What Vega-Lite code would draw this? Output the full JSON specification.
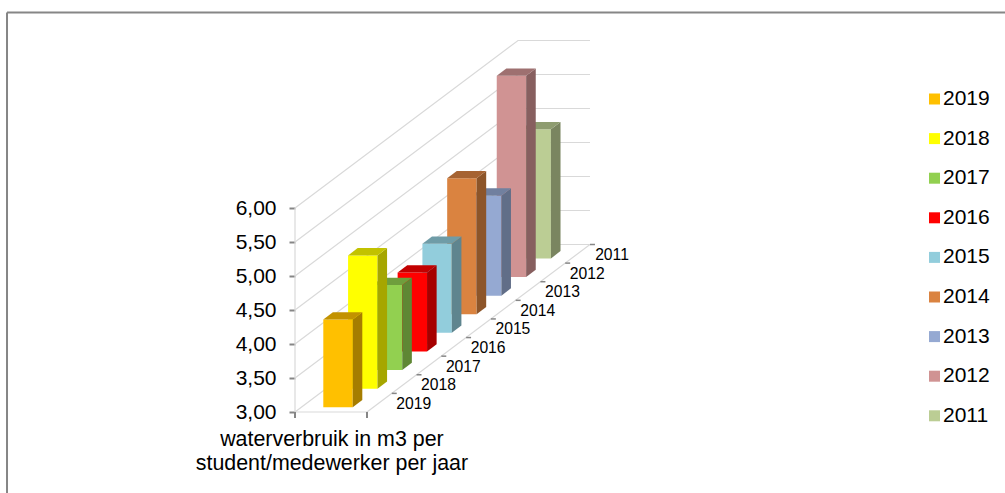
{
  "$schema": "https://vega.github.io/schema/vega-lite/v6.json",
  "width": 1005,
  "height": 493,
  "autosize": "none",
  "padding": 0,
  "background": "white",
  "config": {"view": {"stroke": null}, "font": "Liberation Sans"},
  "datasets": {
    "verbruik": [
      {"jaar": "2011", "waarde": 4.90},
      {"jaar": "2012", "waarde": 5.96},
      {"jaar": "2013", "waarde": 4.47},
      {"jaar": "2014", "waarde": 5.00},
      {"jaar": "2015", "waarde": 4.31},
      {"jaar": "2016", "waarde": 4.16},
      {"jaar": "2017", "waarde": 4.25},
      {"jaar": "2018", "waarde": 4.96},
      {"jaar": "2019", "waarde": 4.29}
    ],
    "niveaus": [
      {"niveau": 3.0}, {"niveau": 3.5}, {"niveau": 4.0}, {"niveau": 4.5},
      {"niveau": 5.0}, {"niveau": 5.5}, {"niveau": 6.0}
    ]
  },
  "layer": [
    {
      "description": "Gridlines: along the side wall, then across the back wall",
      "data": {"name": "niveaus"},
      "transform": [
        {"calculate": "[0,1,2]", "as": "knik"},
        {"flatten": ["knik"]},
        {"calculate": "datum.knik == 0 ? 0 : datum.knik == 1 ? 9 : 11.906", "as": "px"},
        {"calculate": "datum.niveau + (datum.knik >= 1 ? 9 * 0.27369 : 0)", "as": "py"}
      ],
      "mark": {"type": "line", "color": "#d9d9d9", "strokeWidth": 1.2},
      "encoding": {
        "x": {"field": "px", "type": "quantitative", "axis": null,
              "scale": {"domain": [-11.906, 28.655], "nice": false, "zero": false}},
        "y": {"field": "py", "type": "quantitative", "title": null,
              "scale": {"domain": [1.8088, 9.0588], "nice": false, "zero": false},
              "axis": {"values": [3, 3.5, 4, 4.5, 5, 5.5, 6], "offset": -295, "domain": false, "grid": false,
                       "tickSize": 6, "tickColor": "#868686", "tickWidth": 2, "labelPadding": 13, "labelOffset": 1,
                       "labelFontSize": 21, "labelColor": "#000000", "labelFont": "Liberation Sans",
                       "labelExpr": "replace(format(datum.value, '.2f'), '.', ',')"}},
        "detail": {"field": "niveau"},
        "order": {"field": "knik"}
      }
    },
    {
      "description": "Vertical wall edge",
      "data": {"values": [{}]},
      "mark": {"type": "rule", "color": "#d9d9d9", "strokeWidth": 1.2},
      "encoding": {
        "x": {"datum": 0, "type": "quantitative"},
        "y": {"datum": 3, "type": "quantitative"},
        "y2": {"datum": 6}
      }
    },
    {
      "description": "Front edge of the floor",
      "data": {"values": [{}]},
      "mark": {"type": "rule", "color": "#d9d9d9", "strokeWidth": 1.2},
      "encoding": {
        "x": {"datum": 0, "type": "quantitative"},
        "x2": {"datum": 2.906},
        "y": {"datum": 3, "type": "quantitative"}
      }
    },
    {
      "description": "Right edge of the floor",
      "data": {"values": [{}]},
      "mark": {"type": "rule", "color": "#d9d9d9", "strokeWidth": 1.2},
      "encoding": {
        "x": {"datum": 2.906, "type": "quantitative"},
        "x2": {"datum": 11.906},
        "y": {"datum": 3, "type": "quantitative"},
        "y2": {"datum": 5.4632}
      }
    },
    {
      "description": "Category tick at the left floor corner",
      "data": {"values": [{}]},
      "mark": {"type": "rule", "color": "#868686", "strokeWidth": 2},
      "encoding": {
        "x": {"datum": 0, "type": "quantitative"},
        "y": {"datum": 3, "type": "quantitative"},
        "y2": {"datum": 2.912}
      }
    },
    {
      "description": "Category tick at the right floor corner",
      "data": {"values": [{}]},
      "mark": {"type": "rule", "color": "#868686", "strokeWidth": 2},
      "encoding": {
        "x": {"datum": 2.906, "type": "quantitative"},
        "y": {"datum": 3, "type": "quantitative"},
        "y2": {"datum": 2.912}
      }
    },
    {
      "description": "Bars: front, side and top faces, painted from the back row to the front row",
      "data": {"name": "verbruik"},
      "transform": [
        {"calculate": "2019 - toNumber(datum.jaar)", "as": "rij"},
        {"calculate": "['front','side','top']", "as": "vlak"},
        {"flatten": ["vlak"]},
        {"calculate": "[0,1,2,3]", "as": "hoek"},
        {"flatten": ["hoek"]},
        {"calculate": "datum.vlak == 'side' ? 1 : (datum.hoek == 1 || datum.hoek == 2 ? 1 : 0)", "as": "u"},
        {"calculate": "datum.vlak == 'top' ? 1 : (datum.hoek >= 2 ? 1 : 0)", "as": "v"},
        {"calculate": "datum.vlak == 'front' ? 0 : datum.vlak == 'side' ? (datum.hoek == 1 || datum.hoek == 2 ? 1 : 0) : (datum.hoek >= 2 ? 1 : 0)", "as": "z"},
        {"calculate": "datum.rij + 1.142 + datum.u * 1.187 + datum.z * 0.387", "as": "px"},
        {"calculate": "3 + datum.rij * 0.27369 + 0.0691 + datum.v * (datum.waarde - 3) + datum.z * 0.1074", "as": "py"},
        {"calculate": "datum.jaar + '-' + datum.vlak", "as": "sleutel"}
      ],
      "mark": {"type": "line", "strokeWidth": 0, "interpolate": "linear-closed"},
      "encoding": {
        "x": {"field": "px", "type": "quantitative"},
        "y": {"field": "py", "type": "quantitative"},
        "order": {"field": "hoek"},
        "fill": {
          "field": "sleutel", "type": "nominal", "legend": null,
          "scale": {
            "domain": [
              "2019-front", "2019-side", "2019-top",
              "2018-front", "2018-side", "2018-top",
              "2017-front", "2017-side", "2017-top",
              "2016-front", "2016-side", "2016-top",
              "2015-front", "2015-side", "2015-top",
              "2014-front", "2014-side", "2014-top",
              "2013-front", "2013-side", "2013-top",
              "2012-front", "2012-side", "2012-top",
              "2011-front", "2011-side", "2011-top"
            ],
            "range": [
              "#FFC000", "#A67D00", "#C29200",
              "#FFFF00", "#A6A600", "#C2C200",
              "#92D050", "#5F8734", "#6F9E3D",
              "#FF0000", "#A60000", "#C20000",
              "#92CDDC", "#5F858F", "#6F9CA7",
              "#DA8340", "#8D5529", "#A66332",
              "#95A9D2", "#616E88", "#71809F",
              "#D09393", "#875F5F", "#9E7070",
              "#BBCD94", "#7A8560", "#8E9C70"
            ]
          }
        }
      }
    },
    {
      "description": "Depth ticks along the floor",
      "data": {"name": "verbruik"},
      "transform": [
        {"calculate": "2019 - toNumber(datum.jaar)", "as": "rij"},
        {"calculate": "datum.rij + 3.906", "as": "px"},
        {"calculate": "datum.px + 0.2", "as": "px2"},
        {"calculate": "3 + (datum.rij + 1) * 0.27369", "as": "py"}
      ],
      "mark": {"type": "rule", "color": "#868686", "strokeWidth": 1.5},
      "encoding": {
        "x": {"field": "px", "type": "quantitative"},
        "x2": {"field": "px2"},
        "y": {"field": "py", "type": "quantitative"}
      }
    },
    {
      "description": "Depth labels along the floor",
      "data": {"name": "verbruik"},
      "transform": [
        {"calculate": "2019 - toNumber(datum.jaar)", "as": "rij"},
        {"calculate": "datum.rij + 3.906", "as": "px"},
        {"calculate": "3 + (datum.rij + 1) * 0.27369", "as": "py"}
      ],
      "mark": {"type": "text", "fontSize": 15.7, "color": "#000000", "align": "center", "baseline": "middle", "dx": 22, "dy": 10.5},
      "encoding": {
        "x": {"field": "px", "type": "quantitative"},
        "y": {"field": "py", "type": "quantitative"},
        "text": {"field": "jaar"}
      }
    },
    {
      "description": "Category label under the floor",
      "data": {"values": [{"label": "waterverbruik in m3 per\nstudent/medewerker per jaar"}]},
      "mark": {"type": "text", "fontSize": 21.4, "color": "#000000", "align": "center", "baseline": "top", "lineBreak": "\n", "lineHeight": 24.5},
      "encoding": {
        "x": {"datum": 1.49, "type": "quantitative"},
        "y": {"datum": 2.752, "type": "quantitative"},
        "text": {"field": "label"}
      }
    },
    {
      "description": "Chart frame, top edge",
      "data": {"values": [{}]},
      "mark": {"type": "rule", "color": "#868686", "strokeWidth": 2},
      "encoding": {
        "x": {"datum": -11.623, "type": "quantitative"},
        "x2": {"datum": 28.655},
        "y": {"datum": 8.875, "type": "quantitative"}
      }
    },
    {
      "description": "Chart frame, left edge",
      "data": {"values": [{}]},
      "mark": {"type": "rule", "color": "#868686", "strokeWidth": 2},
      "encoding": {
        "x": {"datum": -11.623, "type": "quantitative"},
        "y": {"datum": 8.875, "type": "quantitative"},
        "y2": {"datum": 1.8088}
      }
    },
    {
      "description": "Carries the year legend; the bars themselves use the per-face colours",
      "data": {"name": "verbruik"},
      "mark": {"type": "square", "opacity": 0},
      "encoding": {
        "color": {
          "field": "jaar", "type": "nominal",
          "scale": {
            "domain": ["2019", "2018", "2017", "2016", "2015", "2014", "2013", "2012", "2011"],
            "range": ["#FFC000", "#FFFF00", "#92D050", "#FF0000", "#92CDDC", "#DA8340", "#95A9D2", "#D09393", "#BBCD94"]
          },
          "legend": {
            "orient": "none", "legendX": 924, "legendY": 88.5, "title": null,
            "symbolType": "square", "symbolSize": 121, "symbolOpacity": 1, "symbolStrokeWidth": 0,
            "labelFontSize": 21, "labelColor": "#000000", "labelFont": "Liberation Sans", "labelOffset": -2,
            "rowPadding": 17.6
          }
        }
      }
    }
  ]
}
